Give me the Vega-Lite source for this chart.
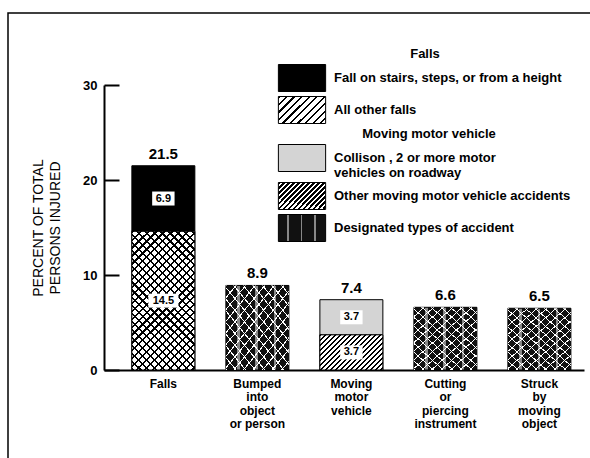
{
  "$schema": "https://vega.github.io/schema/vega-lite/v6.json",
  "width": 584,
  "height": 447,
  "autosize": {"type": "none"},
  "padding": {"left": 8, "top": 13, "right": 0, "bottom": 0},
  "background": "white",
  "config": {
    "font": "Liberation Sans",
    "view": {"stroke": "black", "strokeWidth": 1.5},
    "axisY": {"offset": -96, "tickSize": -15, "labelPadding": 22, "tickWidth": 2, "domainWidth": 2, "domainColor": "black", "tickColor": "black", "labelFontSize": 13, "labelFontWeight": "bold", "labelColor": "black", "titleFontSize": 14, "titleFontWeight": "normal", "titleColor": "black", "titlePadding": 20, "titleLineHeight": 17, "grid": false, "tickCount": 3},
    "axisX": {"offset": -90, "domainWidth": 2, "domainColor": "black", "ticks": false, "labelPadding": 8, "labelFontSize": 12, "labelFontWeight": "bold", "labelColor": "black", "labelLineHeight": 13.5, "labelAngle": 0, "grid": false},
    "legend": {"symbolType": "M-1.75,-1L1.75,-1L1.75,1L-1.75,1Z", "symbolSize": 729, "symbolStrokeColor": "black", "symbolStrokeWidth": 1, "symbolOpacity": 1, "rowPadding": 0, "labelFontSize": 13, "labelFontWeight": "bold", "labelColor": "black", "labelLimit": 400, "labelOffset": 18, "titleFontSize": 13, "titleFontWeight": "bold", "titleColor": "black", "titleAnchor": "middle", "titlePadding": 3}
  },
  "data": {
    "values": [
      {"cause": "Falls", "segment": "Fall on stairs, steps, or from a height", "group": "Falls", "value": 6.9, "order": 2, "label": "6.9"},
      {"cause": "Falls", "segment": "All other falls", "group": "Falls", "value": 14.6, "order": 1, "label": "14.5"},
      {"cause": "Bumped into object or person", "segment": "Designated types of accident", "group": "Designated", "value": 8.9, "order": 1, "label": ""},
      {"cause": "Moving motor vehicle", "segment": "Other moving motor vehicle accidents", "group": "Moving", "value": 3.7, "order": 1, "label": "3.7"},
      {"cause": "Moving motor vehicle", "segment": "Collison , 2 or more motor vehicles on roadway", "group": "Moving", "value": 3.7, "order": 2, "label": "3.7"},
      {"cause": "Cutting or piercing instrument", "segment": "Designated types of accident", "group": "Designated", "value": 6.6, "order": 1, "label": ""},
      {"cause": "Struck by moving object", "segment": "Designated types of accident", "group": "Designated", "value": 6.5, "order": 1, "label": ""}
    ]
  },
  "transform": [
    {"stack": "value", "groupby": ["cause"], "sort": [{"field": "order", "order": "ascending"}], "as": ["v0", "v1"]},
    {"calculate": "(datum.v0 + datum.v1) / 2", "as": "mid"}
  ],
  "encoding": {
    "x": {
      "field": "cause", "type": "nominal",
      "scale": {"domain": ["Falls", "Bumped into object or person", "Moving motor vehicle", "Cutting or piercing instrument", "Struck by moving object"], "range": [96, 576], "paddingInner": 0.33, "paddingOuter": 0.218, "align": 0.68},
      "axis": {"title": null, "labelExpr": "datum.label == 'Bumped into object or person' ? ['Bumped','into','object','or person'] : datum.label == 'Moving motor vehicle' ? ['Moving','motor','vehicle'] : datum.label == 'Cutting or piercing instrument' ? ['Cutting','or','piercing','instrument'] : datum.label == 'Struck by moving object' ? ['Struck','by','moving','object'] : datum.label"}
    },
    "y": {"field": "v0", "type": "quantitative", "scale": {"domain": [0, 30], "range": [357, 72], "nice": false}, "axis": {"title": ["PERCENT OF TOTAL", "PERSONS INJURED"]}},
    "y2": {"field": "v1"}
  },
  "layer": [
    {
      "transform": [{"filter": "datum.group == 'Falls'"}],
      "mark": {"type": "bar", "stroke": "black", "strokeWidth": 1},
      "encoding": {
        "color": {"field": "segment", "type": "nominal", "scale": {"domain": ["Fall on stairs, steps, or from a height", "All other falls"], "range": ["#000000", {"expr": "{gradient:'linear',x1:0,y1:0,x2:1.2,y2:0.69,stops:[{offset:0,color:'#000'},{offset:0.03,color:'#000'},{offset:0.03,color:'#fff'},{offset:0.1,color:'#fff'},{offset:0.1,color:'#000'},{offset:0.13,color:'#000'},{offset:0.13,color:'#fff'},{offset:0.2,color:'#fff'},{offset:0.2,color:'#000'},{offset:0.23,color:'#000'},{offset:0.23,color:'#fff'},{offset:0.3,color:'#fff'},{offset:0.3,color:'#000'},{offset:0.33,color:'#000'},{offset:0.33,color:'#fff'},{offset:0.4,color:'#fff'},{offset:0.4,color:'#000'},{offset:0.43,color:'#000'},{offset:0.43,color:'#fff'},{offset:0.5,color:'#fff'},{offset:0.5,color:'#000'},{offset:0.53,color:'#000'},{offset:0.53,color:'#fff'},{offset:0.6,color:'#fff'},{offset:0.6,color:'#000'},{offset:0.63,color:'#000'},{offset:0.63,color:'#fff'},{offset:0.7,color:'#fff'},{offset:0.7,color:'#000'},{offset:0.73,color:'#000'},{offset:0.73,color:'#fff'},{offset:0.8,color:'#fff'},{offset:0.8,color:'#000'},{offset:0.83,color:'#000'},{offset:0.83,color:'#fff'},{offset:0.9,color:'#fff'},{offset:0.9,color:'#000'},{offset:0.93,color:'#000'},{offset:0.93,color:'#fff'},{offset:1,color:'#fff'}]}"}]},
          "legend": {"title": "Falls", "orient": "none", "legendX": 280, "legendY": 35}
        }
      }
    },
    {
      "transform": [{"filter": "datum.group == 'Moving'"}],
      "mark": {"type": "bar", "stroke": "black", "strokeWidth": 1},
      "encoding": {
        "color": {"field": "segment", "type": "nominal", "scale": {"domain": ["Collison , 2 or more motor vehicles on roadway", "Other moving motor vehicle accidents"], "range": ["#d4d4d4", {"expr": "{gradient:'linear',x1:0,y1:0,x2:1.2,y2:0.68,stops:[{offset:0,color:'#000'},{offset:0.03,color:'#000'},{offset:0.03,color:'#fff'},{offset:0.0667,color:'#fff'},{offset:0.0667,color:'#000'},{offset:0.0967,color:'#000'},{offset:0.0967,color:'#fff'},{offset:0.1333,color:'#fff'},{offset:0.1333,color:'#000'},{offset:0.1633,color:'#000'},{offset:0.1633,color:'#fff'},{offset:0.2,color:'#fff'},{offset:0.2,color:'#000'},{offset:0.23,color:'#000'},{offset:0.23,color:'#fff'},{offset:0.2667,color:'#fff'},{offset:0.2667,color:'#000'},{offset:0.2967,color:'#000'},{offset:0.2967,color:'#fff'},{offset:0.3333,color:'#fff'},{offset:0.3333,color:'#000'},{offset:0.3633,color:'#000'},{offset:0.3633,color:'#fff'},{offset:0.4,color:'#fff'},{offset:0.4,color:'#000'},{offset:0.43,color:'#000'},{offset:0.43,color:'#fff'},{offset:0.4667,color:'#fff'},{offset:0.4667,color:'#000'},{offset:0.4967,color:'#000'},{offset:0.4967,color:'#fff'},{offset:0.5333,color:'#fff'},{offset:0.5333,color:'#000'},{offset:0.5633,color:'#000'},{offset:0.5633,color:'#fff'},{offset:0.6,color:'#fff'},{offset:0.6,color:'#000'},{offset:0.63,color:'#000'},{offset:0.63,color:'#fff'},{offset:0.6667,color:'#fff'},{offset:0.6667,color:'#000'},{offset:0.6967,color:'#000'},{offset:0.6967,color:'#fff'},{offset:0.7333,color:'#fff'},{offset:0.7333,color:'#000'},{offset:0.7633,color:'#000'},{offset:0.7633,color:'#fff'},{offset:0.8,color:'#fff'},{offset:0.8,color:'#000'},{offset:0.83,color:'#000'},{offset:0.83,color:'#fff'},{offset:0.8667,color:'#fff'},{offset:0.8667,color:'#000'},{offset:0.8967,color:'#000'},{offset:0.8967,color:'#fff'},{offset:0.9333,color:'#fff'},{offset:0.9333,color:'#000'},{offset:0.9633,color:'#000'},{offset:0.9633,color:'#fff'},{offset:1,color:'#fff'}]}"}]},
          "legend": {"title": "Moving motor vehicle", "orient": "none", "legendX": 280, "legendY": 115,
            "labelExpr": "datum.label == 'Collison , 2 or more motor vehicles on roadway' ? ['Collison , 2 or more motor', '\u00a0\u00a0vehicles on roadway'] : datum.label"}
        }
      }
    },
    {
      "transform": [{"filter": "datum.group == 'Designated'"}],
      "mark": {"type": "bar", "stroke": "black", "strokeWidth": 1},
      "encoding": {
        "color": {"field": "segment", "type": "nominal", "scale": {"domain": ["Designated types of accident"], "range": [{"expr": "{gradient:'linear',x1:0,y1:0,x2:1,y2:0,stops:[{offset:0,color:'#111'},{offset:0.18,color:'#111'},{offset:0.18,color:'#888'},{offset:0.22,color:'#888'},{offset:0.22,color:'#111'},{offset:0.47,color:'#111'},{offset:0.47,color:'#888'},{offset:0.51,color:'#888'},{offset:0.51,color:'#111'},{offset:0.76,color:'#111'},{offset:0.76,color:'#888'},{offset:0.8,color:'#888'},{offset:0.8,color:'#111'},{offset:1,color:'#111'}]}"}]}, "legend": {"title": null, "orient": "none", "legendX": 280, "legendY": 201}}
      }
    },
    {
      "transform": [{"filter": "datum.group == 'Designated'"}],
      "mark": {"type": "bar", "strokeWidth": 0, "fill": {"gradient": "linear", "x1": 0, "y1": 0, "x2": 1.1, "y2": 1.21, "stops": [
        {"offset": 0, "color": "#fff"}, {"offset": 0.008, "color": "#fff"}, {"offset": 0.008, "color": "rgba(255,255,255,0)"}, {"offset": 0.0625, "color": "rgba(255,255,255,0)"},
        {"offset": 0.0625, "color": "#fff"}, {"offset": 0.0705, "color": "#fff"}, {"offset": 0.0705, "color": "rgba(255,255,255,0)"}, {"offset": 0.125, "color": "rgba(255,255,255,0)"},
        {"offset": 0.125, "color": "#fff"}, {"offset": 0.133, "color": "#fff"}, {"offset": 0.133, "color": "rgba(255,255,255,0)"}, {"offset": 0.1875, "color": "rgba(255,255,255,0)"},
        {"offset": 0.1875, "color": "#fff"}, {"offset": 0.1955, "color": "#fff"}, {"offset": 0.1955, "color": "rgba(255,255,255,0)"}, {"offset": 0.25, "color": "rgba(255,255,255,0)"},
        {"offset": 0.25, "color": "#fff"}, {"offset": 0.258, "color": "#fff"}, {"offset": 0.258, "color": "rgba(255,255,255,0)"}, {"offset": 0.3125, "color": "rgba(255,255,255,0)"},
        {"offset": 0.3125, "color": "#fff"}, {"offset": 0.3205, "color": "#fff"}, {"offset": 0.3205, "color": "rgba(255,255,255,0)"}, {"offset": 0.375, "color": "rgba(255,255,255,0)"},
        {"offset": 0.375, "color": "#fff"}, {"offset": 0.383, "color": "#fff"}, {"offset": 0.383, "color": "rgba(255,255,255,0)"}, {"offset": 0.4375, "color": "rgba(255,255,255,0)"},
        {"offset": 0.4375, "color": "#fff"}, {"offset": 0.4455, "color": "#fff"}, {"offset": 0.4455, "color": "rgba(255,255,255,0)"}, {"offset": 0.5, "color": "rgba(255,255,255,0)"},
        {"offset": 0.5, "color": "#fff"}, {"offset": 0.508, "color": "#fff"}, {"offset": 0.508, "color": "rgba(255,255,255,0)"}, {"offset": 0.5625, "color": "rgba(255,255,255,0)"},
        {"offset": 0.5625, "color": "#fff"}, {"offset": 0.5705, "color": "#fff"}, {"offset": 0.5705, "color": "rgba(255,255,255,0)"}, {"offset": 0.625, "color": "rgba(255,255,255,0)"},
        {"offset": 0.625, "color": "#fff"}, {"offset": 0.633, "color": "#fff"}, {"offset": 0.633, "color": "rgba(255,255,255,0)"}, {"offset": 0.6875, "color": "rgba(255,255,255,0)"},
        {"offset": 0.6875, "color": "#fff"}, {"offset": 0.6955, "color": "#fff"}, {"offset": 0.6955, "color": "rgba(255,255,255,0)"}, {"offset": 0.75, "color": "rgba(255,255,255,0)"},
        {"offset": 0.75, "color": "#fff"}, {"offset": 0.758, "color": "#fff"}, {"offset": 0.758, "color": "rgba(255,255,255,0)"}, {"offset": 0.8125, "color": "rgba(255,255,255,0)"},
        {"offset": 0.8125, "color": "#fff"}, {"offset": 0.8205, "color": "#fff"}, {"offset": 0.8205, "color": "rgba(255,255,255,0)"}, {"offset": 1, "color": "rgba(255,255,255,0)"}
      ]}}
    },
    {
      "transform": [{"filter": "datum.group == 'Designated'"}],
      "mark": {"type": "bar", "strokeWidth": 0, "fill": {"gradient": "linear", "x1": 0, "y1": 1, "x2": 1.1, "y2": -0.21, "stops": [
        {"offset": 0, "color": "#fff"}, {"offset": 0.008, "color": "#fff"}, {"offset": 0.008, "color": "rgba(255,255,255,0)"}, {"offset": 0.0625, "color": "rgba(255,255,255,0)"},
        {"offset": 0.0625, "color": "#fff"}, {"offset": 0.0705, "color": "#fff"}, {"offset": 0.0705, "color": "rgba(255,255,255,0)"}, {"offset": 0.125, "color": "rgba(255,255,255,0)"},
        {"offset": 0.125, "color": "#fff"}, {"offset": 0.133, "color": "#fff"}, {"offset": 0.133, "color": "rgba(255,255,255,0)"}, {"offset": 0.1875, "color": "rgba(255,255,255,0)"},
        {"offset": 0.1875, "color": "#fff"}, {"offset": 0.1955, "color": "#fff"}, {"offset": 0.1955, "color": "rgba(255,255,255,0)"}, {"offset": 0.25, "color": "rgba(255,255,255,0)"},
        {"offset": 0.25, "color": "#fff"}, {"offset": 0.258, "color": "#fff"}, {"offset": 0.258, "color": "rgba(255,255,255,0)"}, {"offset": 0.3125, "color": "rgba(255,255,255,0)"},
        {"offset": 0.3125, "color": "#fff"}, {"offset": 0.3205, "color": "#fff"}, {"offset": 0.3205, "color": "rgba(255,255,255,0)"}, {"offset": 0.375, "color": "rgba(255,255,255,0)"},
        {"offset": 0.375, "color": "#fff"}, {"offset": 0.383, "color": "#fff"}, {"offset": 0.383, "color": "rgba(255,255,255,0)"}, {"offset": 0.4375, "color": "rgba(255,255,255,0)"},
        {"offset": 0.4375, "color": "#fff"}, {"offset": 0.4455, "color": "#fff"}, {"offset": 0.4455, "color": "rgba(255,255,255,0)"}, {"offset": 0.5, "color": "rgba(255,255,255,0)"},
        {"offset": 0.5, "color": "#fff"}, {"offset": 0.508, "color": "#fff"}, {"offset": 0.508, "color": "rgba(255,255,255,0)"}, {"offset": 0.5625, "color": "rgba(255,255,255,0)"},
        {"offset": 0.5625, "color": "#fff"}, {"offset": 0.5705, "color": "#fff"}, {"offset": 0.5705, "color": "rgba(255,255,255,0)"}, {"offset": 0.625, "color": "rgba(255,255,255,0)"},
        {"offset": 0.625, "color": "#fff"}, {"offset": 0.633, "color": "#fff"}, {"offset": 0.633, "color": "rgba(255,255,255,0)"}, {"offset": 0.6875, "color": "rgba(255,255,255,0)"},
        {"offset": 0.6875, "color": "#fff"}, {"offset": 0.6955, "color": "#fff"}, {"offset": 0.6955, "color": "rgba(255,255,255,0)"}, {"offset": 0.75, "color": "rgba(255,255,255,0)"},
        {"offset": 0.75, "color": "#fff"}, {"offset": 0.758, "color": "#fff"}, {"offset": 0.758, "color": "rgba(255,255,255,0)"}, {"offset": 0.8125, "color": "rgba(255,255,255,0)"},
        {"offset": 0.8125, "color": "#fff"}, {"offset": 0.8205, "color": "#fff"}, {"offset": 0.8205, "color": "rgba(255,255,255,0)"}, {"offset": 1, "color": "rgba(255,255,255,0)"}
      ]}}
    },
    {
      "transform": [{"filter": "datum.segment == 'All other falls'"}],
      "mark": {"type": "bar", "stroke": "black", "strokeWidth": 1, "fill": {"gradient": "linear", "x1": 0, "y1": 0, "x2": 0.6, "y2": 1.324, "stops": [
        {"offset": 0, "color": "#000"}, {"offset": 0.01, "color": "#000"}, {"offset": 0.01, "color": "#fff"}, {"offset": 0.0357, "color": "#fff"},
        {"offset": 0.0357, "color": "#000"}, {"offset": 0.0457, "color": "#000"}, {"offset": 0.0457, "color": "#fff"}, {"offset": 0.0714, "color": "#fff"},
        {"offset": 0.0714, "color": "#000"}, {"offset": 0.0814, "color": "#000"}, {"offset": 0.0814, "color": "#fff"}, {"offset": 0.1071, "color": "#fff"},
        {"offset": 0.1071, "color": "#000"}, {"offset": 0.1171, "color": "#000"}, {"offset": 0.1171, "color": "#fff"}, {"offset": 0.1429, "color": "#fff"},
        {"offset": 0.1429, "color": "#000"}, {"offset": 0.1529, "color": "#000"}, {"offset": 0.1529, "color": "#fff"}, {"offset": 0.1786, "color": "#fff"},
        {"offset": 0.1786, "color": "#000"}, {"offset": 0.1886, "color": "#000"}, {"offset": 0.1886, "color": "#fff"}, {"offset": 0.2143, "color": "#fff"},
        {"offset": 0.2143, "color": "#000"}, {"offset": 0.2243, "color": "#000"}, {"offset": 0.2243, "color": "#fff"}, {"offset": 0.25, "color": "#fff"},
        {"offset": 0.25, "color": "#000"}, {"offset": 0.26, "color": "#000"}, {"offset": 0.26, "color": "#fff"}, {"offset": 0.2857, "color": "#fff"},
        {"offset": 0.2857, "color": "#000"}, {"offset": 0.2957, "color": "#000"}, {"offset": 0.2957, "color": "#fff"}, {"offset": 0.3214, "color": "#fff"},
        {"offset": 0.3214, "color": "#000"}, {"offset": 0.3314, "color": "#000"}, {"offset": 0.3314, "color": "#fff"}, {"offset": 0.3571, "color": "#fff"},
        {"offset": 0.3571, "color": "#000"}, {"offset": 0.3671, "color": "#000"}, {"offset": 0.3671, "color": "#fff"}, {"offset": 0.3929, "color": "#fff"},
        {"offset": 0.3929, "color": "#000"}, {"offset": 0.4029, "color": "#000"}, {"offset": 0.4029, "color": "#fff"}, {"offset": 0.4286, "color": "#fff"},
        {"offset": 0.4286, "color": "#000"}, {"offset": 0.4386, "color": "#000"}, {"offset": 0.4386, "color": "#fff"}, {"offset": 0.4643, "color": "#fff"},
        {"offset": 0.4643, "color": "#000"}, {"offset": 0.4743, "color": "#000"}, {"offset": 0.4743, "color": "#fff"}, {"offset": 0.5, "color": "#fff"},
        {"offset": 0.5, "color": "#000"}, {"offset": 0.51, "color": "#000"}, {"offset": 0.51, "color": "#fff"}, {"offset": 0.5357, "color": "#fff"},
        {"offset": 0.5357, "color": "#000"}, {"offset": 0.5457, "color": "#000"}, {"offset": 0.5457, "color": "#fff"}, {"offset": 0.5714, "color": "#fff"},
        {"offset": 0.5714, "color": "#000"}, {"offset": 0.5814, "color": "#000"}, {"offset": 0.5814, "color": "#fff"}, {"offset": 0.6071, "color": "#fff"},
        {"offset": 0.6071, "color": "#000"}, {"offset": 0.6171, "color": "#000"}, {"offset": 0.6171, "color": "#fff"}, {"offset": 0.6429, "color": "#fff"},
        {"offset": 0.6429, "color": "#000"}, {"offset": 0.6529, "color": "#000"}, {"offset": 0.6529, "color": "#fff"}, {"offset": 0.6786, "color": "#fff"},
        {"offset": 0.6786, "color": "#000"}, {"offset": 0.6886, "color": "#000"}, {"offset": 0.6886, "color": "#fff"}, {"offset": 0.7143, "color": "#fff"},
        {"offset": 0.7143, "color": "#000"}, {"offset": 0.7243, "color": "#000"}, {"offset": 0.7243, "color": "#fff"}, {"offset": 0.75, "color": "#fff"},
        {"offset": 0.75, "color": "#000"}, {"offset": 0.76, "color": "#000"}, {"offset": 0.76, "color": "#fff"}, {"offset": 0.7857, "color": "#fff"},
        {"offset": 0.7857, "color": "#000"}, {"offset": 0.7957, "color": "#000"}, {"offset": 0.7957, "color": "#fff"}, {"offset": 0.8214, "color": "#fff"},
        {"offset": 0.8214, "color": "#000"}, {"offset": 0.8314, "color": "#000"}, {"offset": 0.8314, "color": "#fff"}, {"offset": 0.8571, "color": "#fff"},
        {"offset": 0.8571, "color": "#000"}, {"offset": 0.8671, "color": "#000"}, {"offset": 0.8671, "color": "#fff"}, {"offset": 0.8929, "color": "#fff"},
        {"offset": 0.8929, "color": "#000"}, {"offset": 0.9029, "color": "#000"}, {"offset": 0.9029, "color": "#fff"}, {"offset": 0.9286, "color": "#fff"},
        {"offset": 0.9286, "color": "#000"}, {"offset": 0.9386, "color": "#000"}, {"offset": 0.9386, "color": "#fff"}, {"offset": 1, "color": "#fff"}
      ]}}
    },
    {
      "transform": [{"filter": "datum.segment == 'All other falls'"}],
      "mark": {"type": "bar", "strokeWidth": 0, "fill": {"gradient": "linear", "x1": 0, "y1": 1, "x2": 0.6, "y2": -0.324, "stops": [
        {"offset": 0, "color": "#000"}, {"offset": 0.01, "color": "#000"}, {"offset": 0.01, "color": "rgba(0,0,0,0)"}, {"offset": 0.0357, "color": "rgba(0,0,0,0)"},
        {"offset": 0.0357, "color": "#000"}, {"offset": 0.0457, "color": "#000"}, {"offset": 0.0457, "color": "rgba(0,0,0,0)"}, {"offset": 0.0714, "color": "rgba(0,0,0,0)"},
        {"offset": 0.0714, "color": "#000"}, {"offset": 0.0814, "color": "#000"}, {"offset": 0.0814, "color": "rgba(0,0,0,0)"}, {"offset": 0.1071, "color": "rgba(0,0,0,0)"},
        {"offset": 0.1071, "color": "#000"}, {"offset": 0.1171, "color": "#000"}, {"offset": 0.1171, "color": "rgba(0,0,0,0)"}, {"offset": 0.1429, "color": "rgba(0,0,0,0)"},
        {"offset": 0.1429, "color": "#000"}, {"offset": 0.1529, "color": "#000"}, {"offset": 0.1529, "color": "rgba(0,0,0,0)"}, {"offset": 0.1786, "color": "rgba(0,0,0,0)"},
        {"offset": 0.1786, "color": "#000"}, {"offset": 0.1886, "color": "#000"}, {"offset": 0.1886, "color": "rgba(0,0,0,0)"}, {"offset": 0.2143, "color": "rgba(0,0,0,0)"},
        {"offset": 0.2143, "color": "#000"}, {"offset": 0.2243, "color": "#000"}, {"offset": 0.2243, "color": "rgba(0,0,0,0)"}, {"offset": 0.25, "color": "rgba(0,0,0,0)"},
        {"offset": 0.25, "color": "#000"}, {"offset": 0.26, "color": "#000"}, {"offset": 0.26, "color": "rgba(0,0,0,0)"}, {"offset": 0.2857, "color": "rgba(0,0,0,0)"},
        {"offset": 0.2857, "color": "#000"}, {"offset": 0.2957, "color": "#000"}, {"offset": 0.2957, "color": "rgba(0,0,0,0)"}, {"offset": 0.3214, "color": "rgba(0,0,0,0)"},
        {"offset": 0.3214, "color": "#000"}, {"offset": 0.3314, "color": "#000"}, {"offset": 0.3314, "color": "rgba(0,0,0,0)"}, {"offset": 0.3571, "color": "rgba(0,0,0,0)"},
        {"offset": 0.3571, "color": "#000"}, {"offset": 0.3671, "color": "#000"}, {"offset": 0.3671, "color": "rgba(0,0,0,0)"}, {"offset": 0.3929, "color": "rgba(0,0,0,0)"},
        {"offset": 0.3929, "color": "#000"}, {"offset": 0.4029, "color": "#000"}, {"offset": 0.4029, "color": "rgba(0,0,0,0)"}, {"offset": 0.4286, "color": "rgba(0,0,0,0)"},
        {"offset": 0.4286, "color": "#000"}, {"offset": 0.4386, "color": "#000"}, {"offset": 0.4386, "color": "rgba(0,0,0,0)"}, {"offset": 0.4643, "color": "rgba(0,0,0,0)"},
        {"offset": 0.4643, "color": "#000"}, {"offset": 0.4743, "color": "#000"}, {"offset": 0.4743, "color": "rgba(0,0,0,0)"}, {"offset": 0.5, "color": "rgba(0,0,0,0)"},
        {"offset": 0.5, "color": "#000"}, {"offset": 0.51, "color": "#000"}, {"offset": 0.51, "color": "rgba(0,0,0,0)"}, {"offset": 0.5357, "color": "rgba(0,0,0,0)"},
        {"offset": 0.5357, "color": "#000"}, {"offset": 0.5457, "color": "#000"}, {"offset": 0.5457, "color": "rgba(0,0,0,0)"}, {"offset": 0.5714, "color": "rgba(0,0,0,0)"},
        {"offset": 0.5714, "color": "#000"}, {"offset": 0.5814, "color": "#000"}, {"offset": 0.5814, "color": "rgba(0,0,0,0)"}, {"offset": 0.6071, "color": "rgba(0,0,0,0)"},
        {"offset": 0.6071, "color": "#000"}, {"offset": 0.6171, "color": "#000"}, {"offset": 0.6171, "color": "rgba(0,0,0,0)"}, {"offset": 0.6429, "color": "rgba(0,0,0,0)"},
        {"offset": 0.6429, "color": "#000"}, {"offset": 0.6529, "color": "#000"}, {"offset": 0.6529, "color": "rgba(0,0,0,0)"}, {"offset": 0.6786, "color": "rgba(0,0,0,0)"},
        {"offset": 0.6786, "color": "#000"}, {"offset": 0.6886, "color": "#000"}, {"offset": 0.6886, "color": "rgba(0,0,0,0)"}, {"offset": 0.7143, "color": "rgba(0,0,0,0)"},
        {"offset": 0.7143, "color": "#000"}, {"offset": 0.7243, "color": "#000"}, {"offset": 0.7243, "color": "rgba(0,0,0,0)"}, {"offset": 0.75, "color": "rgba(0,0,0,0)"},
        {"offset": 0.75, "color": "#000"}, {"offset": 0.76, "color": "#000"}, {"offset": 0.76, "color": "rgba(0,0,0,0)"}, {"offset": 0.7857, "color": "rgba(0,0,0,0)"},
        {"offset": 0.7857, "color": "#000"}, {"offset": 0.7957, "color": "#000"}, {"offset": 0.7957, "color": "rgba(0,0,0,0)"}, {"offset": 0.8214, "color": "rgba(0,0,0,0)"},
        {"offset": 0.8214, "color": "#000"}, {"offset": 0.8314, "color": "#000"}, {"offset": 0.8314, "color": "rgba(0,0,0,0)"}, {"offset": 0.8571, "color": "rgba(0,0,0,0)"},
        {"offset": 0.8571, "color": "#000"}, {"offset": 0.8671, "color": "#000"}, {"offset": 0.8671, "color": "rgba(0,0,0,0)"}, {"offset": 0.8929, "color": "rgba(0,0,0,0)"},
        {"offset": 0.8929, "color": "#000"}, {"offset": 0.9029, "color": "#000"}, {"offset": 0.9029, "color": "rgba(0,0,0,0)"}, {"offset": 0.9286, "color": "rgba(0,0,0,0)"},
        {"offset": 0.9286, "color": "#000"}, {"offset": 0.9386, "color": "#000"}, {"offset": 0.9386, "color": "rgba(0,0,0,0)"}, {"offset": 1, "color": "rgba(0,0,0,0)"}
      ]}}
    },
    {
      "transform": [{"filter": "datum.segment == 'Other moving motor vehicle accidents'"}],
      "mark": {"type": "bar", "stroke": "black", "strokeWidth": 1, "fill": {"gradient": "linear", "x1": 0, "y1": 0, "x2": 1.2, "y2": 0.68, "stops": [
        {"offset": 0, "color": "#000"}, {"offset": 0.0225, "color": "#000"}, {"offset": 0.0225, "color": "#fff"}, {"offset": 0.05, "color": "#fff"},
        {"offset": 0.05, "color": "#000"}, {"offset": 0.0725, "color": "#000"}, {"offset": 0.0725, "color": "#fff"}, {"offset": 0.1, "color": "#fff"},
        {"offset": 0.1, "color": "#000"}, {"offset": 0.1225, "color": "#000"}, {"offset": 0.1225, "color": "#fff"}, {"offset": 0.15, "color": "#fff"},
        {"offset": 0.15, "color": "#000"}, {"offset": 0.1725, "color": "#000"}, {"offset": 0.1725, "color": "#fff"}, {"offset": 0.2, "color": "#fff"},
        {"offset": 0.2, "color": "#000"}, {"offset": 0.2225, "color": "#000"}, {"offset": 0.2225, "color": "#fff"}, {"offset": 0.25, "color": "#fff"},
        {"offset": 0.25, "color": "#000"}, {"offset": 0.2725, "color": "#000"}, {"offset": 0.2725, "color": "#fff"}, {"offset": 0.3, "color": "#fff"},
        {"offset": 0.3, "color": "#000"}, {"offset": 0.3225, "color": "#000"}, {"offset": 0.3225, "color": "#fff"}, {"offset": 0.35, "color": "#fff"},
        {"offset": 0.35, "color": "#000"}, {"offset": 0.3725, "color": "#000"}, {"offset": 0.3725, "color": "#fff"}, {"offset": 0.4, "color": "#fff"},
        {"offset": 0.4, "color": "#000"}, {"offset": 0.4225, "color": "#000"}, {"offset": 0.4225, "color": "#fff"}, {"offset": 0.45, "color": "#fff"},
        {"offset": 0.45, "color": "#000"}, {"offset": 0.4725, "color": "#000"}, {"offset": 0.4725, "color": "#fff"}, {"offset": 0.5, "color": "#fff"},
        {"offset": 0.5, "color": "#000"}, {"offset": 0.5225, "color": "#000"}, {"offset": 0.5225, "color": "#fff"}, {"offset": 0.55, "color": "#fff"},
        {"offset": 0.55, "color": "#000"}, {"offset": 0.5725, "color": "#000"}, {"offset": 0.5725, "color": "#fff"}, {"offset": 0.6, "color": "#fff"},
        {"offset": 0.6, "color": "#000"}, {"offset": 0.6225, "color": "#000"}, {"offset": 0.6225, "color": "#fff"}, {"offset": 0.65, "color": "#fff"},
        {"offset": 0.65, "color": "#000"}, {"offset": 0.6725, "color": "#000"}, {"offset": 0.6725, "color": "#fff"}, {"offset": 0.7, "color": "#fff"},
        {"offset": 0.7, "color": "#000"}, {"offset": 0.7225, "color": "#000"}, {"offset": 0.7225, "color": "#fff"}, {"offset": 0.75, "color": "#fff"},
        {"offset": 0.75, "color": "#000"}, {"offset": 0.7725, "color": "#000"}, {"offset": 0.7725, "color": "#fff"}, {"offset": 0.8, "color": "#fff"},
        {"offset": 0.8, "color": "#000"}, {"offset": 0.8225, "color": "#000"}, {"offset": 0.8225, "color": "#fff"}, {"offset": 0.85, "color": "#fff"},
        {"offset": 0.85, "color": "#000"}, {"offset": 0.8725, "color": "#000"}, {"offset": 0.8725, "color": "#fff"}, {"offset": 0.9, "color": "#fff"},
        {"offset": 0.9, "color": "#000"}, {"offset": 0.9225, "color": "#000"}, {"offset": 0.9225, "color": "#fff"}, {"offset": 0.95, "color": "#fff"},
        {"offset": 0.95, "color": "#000"}, {"offset": 0.9725, "color": "#000"}, {"offset": 0.9725, "color": "#fff"}, {"offset": 1, "color": "#fff"}
      ]}}
    },
    {
      "transform": [{"filter": "datum.label != ''"}],
      "mark": {"type": "point", "filled": true, "fill": "white", "strokeWidth": 0, "opacity": 1, "size": 196},
      "encoding": {
        "y": {"field": "mid", "type": "quantitative"},
        "y2": null,
        "shape": {"condition": {"test": "datum.label == '14.5'", "value": "M-2.15,-1L2.15,-1L2.15,1L-2.15,1Z"}, "value": "M-1.6,-1L1.6,-1L1.6,1L-1.6,1Z"}
      }
    },
    {
      "transform": [{"filter": "datum.label != ''"}],
      "mark": {"type": "text", "fontSize": 11, "fontWeight": "bold", "color": "black", "baseline": "middle", "align": "center"},
      "encoding": {
        "y": {"field": "mid", "type": "quantitative"},
        "y2": null,
        "text": {"field": "label"}
      }
    },
    {
      "mark": {"type": "text", "fontSize": 15, "fontWeight": "bold", "color": "black", "baseline": "alphabetic", "align": "center", "dy": -7},
      "encoding": {
        "y": {"aggregate": "sum", "field": "value", "type": "quantitative"},
        "y2": null,
        "text": {"aggregate": "sum", "field": "value", "type": "quantitative", "format": ".1f"}
      }
    }
  ],
  "resolve": {"scale": {"color": "independent"}}
}
